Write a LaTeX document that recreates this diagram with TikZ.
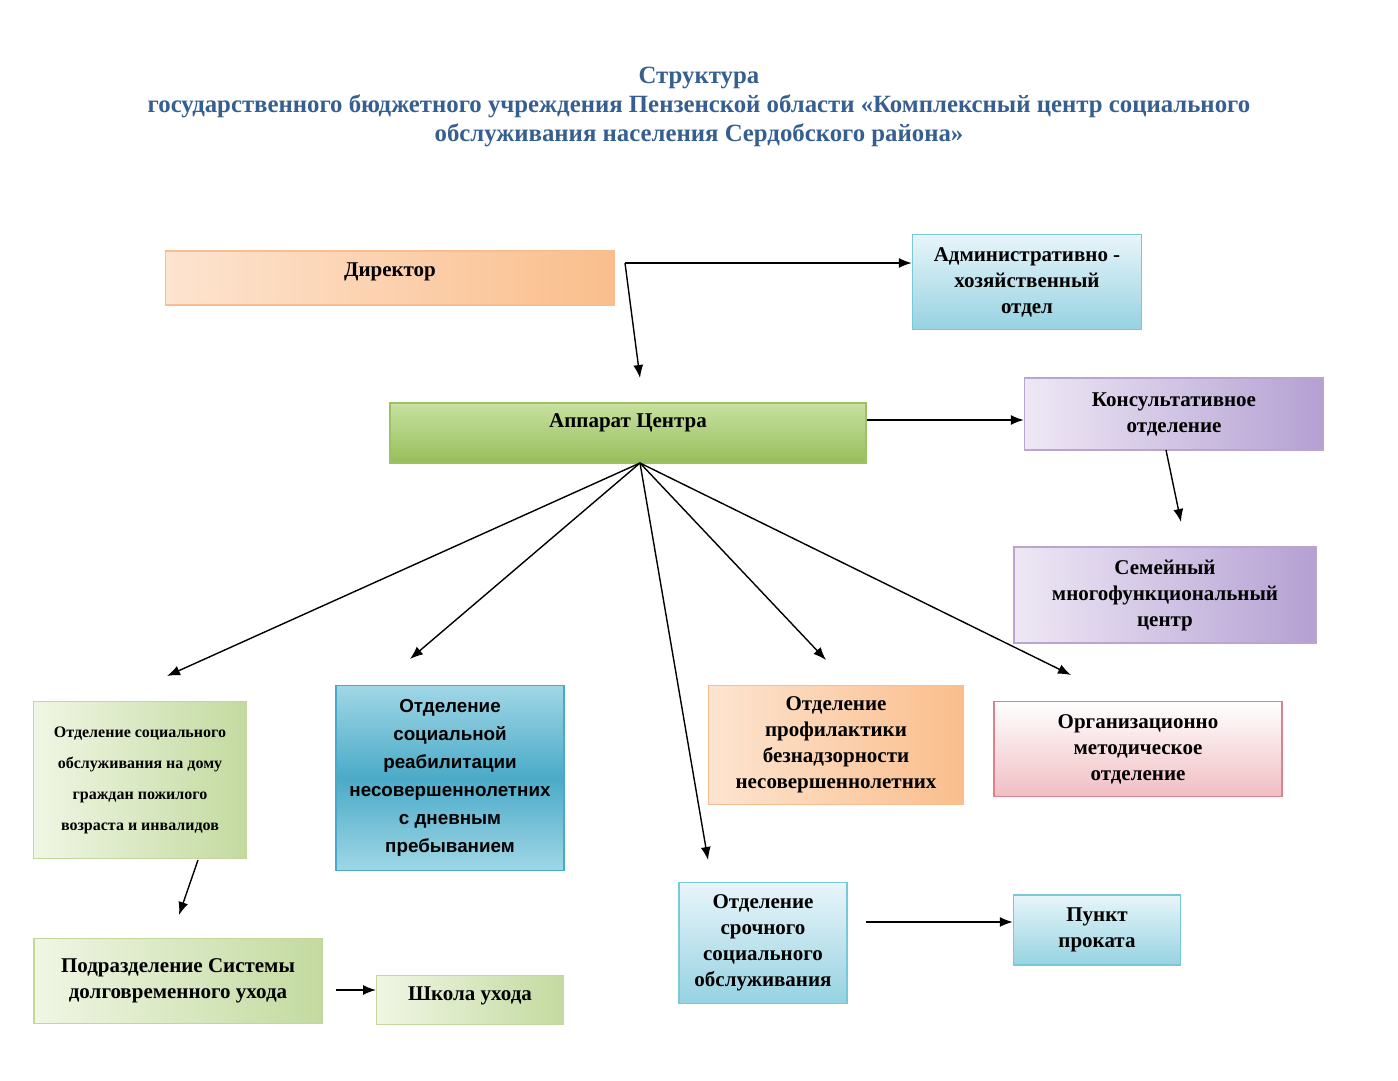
\documentclass[tikz,border=0pt]{standalone}
\usepackage{fontspec}
\setmainfont{Liberation Serif}
\newfontfamily\sansb{Liberation Sans}
\usetikzlibrary{arrows.meta}
\definecolor{ttl}{RGB}{54,95,145}
\definecolor{or1}{RGB}{253,228,208}\definecolor{or2}{RGB}{250,190,140}\definecolor{orb}{RGB}{248,190,145}
\definecolor{bl1}{RGB}{232,245,250}\definecolor{bl2}{RGB}{150,210,225}\definecolor{blb}{RGB}{120,200,215}
\definecolor{db1}{RGB}{160,215,230}\definecolor{db2}{RGB}{75,170,200}\definecolor{dbb}{RGB}{70,170,200}
\definecolor{gr1}{RGB}{200,225,160}\definecolor{gr2}{RGB}{150,190,90}\definecolor{grb}{RGB}{155,195,100}
\definecolor{lg1}{RGB}{240,246,228}\definecolor{lg2}{RGB}{195,218,160}\definecolor{lgb}{RGB}{195,215,155}
\definecolor{pu1}{RGB}{238,232,245}\definecolor{pu2}{RGB}{180,160,210}\definecolor{pub}{RGB}{185,165,210}
\definecolor{pk1}{RGB}{255,255,255}\definecolor{pk2}{RGB}{240,190,195}\definecolor{pkb}{RGB}{220,130,140}
\begin{document}
\begin{tikzpicture}[x=1pt,y=-1pt,
 box/.style={draw=#1,line width=1.4pt,inner sep=0pt,font=\bfseries\fontsize{21}{26}\selectfont,align=center},
 orng/.style={box=orb,left color=or1,right color=or2},
 blu/.style={box=blb,top color=bl1,bottom color=bl2},
 dblu/.style={box=dbb,top color=db1,bottom color=db1,middle color=db2},
 grn/.style={box=grb,top color=gr1,bottom color=gr2},
 lgrn/.style={box=lgb,left color=lg1,right color=lg2},
 purp/.style={box=pub,left color=pu1,right color=pu2},
 pnk/.style={box=pkb,top color=pk1,bottom color=pk2},
 arr/.style={-{Latex[length=13pt,width=10pt]},line width=1.4pt}]
\useasboundingbox (0,0) rectangle (1398,1080);
\node[font=\bfseries\fontsize{24.8}{29}\selectfont,text=ttl,align=center] (title) at (699,107) {Структура\\государственного бюджетного учреждения Пензенской области «Комплексный центр социального\\обслуживания населения Сердобского района»};
\node[orng,minimum width=449,minimum height=54] (dir) at (390,278) {};
\node[font=\bfseries\fontsize{21}{26}\selectfont] at (390,272) {Директор};
\node[blu,minimum width=229,minimum height=95] (adm) at (1027,282) {Административно -\\хозяйственный\\отдел};
\node[grn,minimum width=476,minimum height=60] (app) at (628,433) {};
\node[font=\bfseries\fontsize{21}{26}\selectfont] at (628,423) {Аппарат Центра};
\node[purp,minimum width=299,minimum height=72] (kon) at (1174,414) {Консультативное\\отделение};
\node[purp,minimum width=302,minimum height=96] (sem) at (1165,595) {Семейный\\многофункциональный\\центр};
\node[lgrn,minimum width=213,minimum height=157,font=\bfseries\fontsize{16}{31}\selectfont] (dom) at (140,780) {Отделение социального\\обслуживания на дому\\граждан пожилого\\возраста и инвалидов};
\node[dblu,minimum width=228,minimum height=185,font=\sansb\bfseries\fontsize{18.8}{28}\selectfont] (reab) at (450,778) {Отделение\\социальной\\реабилитации\\несовершеннолетних\\с дневным\\пребыванием};
\node[orng,minimum width=255,minimum height=119] (prof) at (836,745) {Отделение\\профилактики\\безнадзорности\\несовершеннолетних};
\node[pnk,minimum width=288,minimum height=95] (org) at (1138,749) {Организационно\\методическое\\отделение};
\node[blu,minimum width=168,minimum height=121] (sroch) at (763,943) {Отделение\\срочного\\социального\\обслуживания};
\node[blu,minimum width=167,minimum height=70] (punkt) at (1097,930) {Пункт\\проката};
\node[lgrn,minimum width=288,minimum height=85] (pod) at (178,981) {Подразделение Системы\\долговременного ухода};
\node[lgrn,minimum width=187,minimum height=49] (shk) at (470,1000) {};
\node[font=\bfseries\fontsize{21}{26}\selectfont] at (470,996) {Школа ухода};
\coordinate (d0) at (625,263);
\coordinate (a0) at (640,463);
\draw[arr] (d0) -- (adm.west|-d0);
\draw[arr] (d0) -- (640,378);
\draw[arr] (a0) -- (167,676);
\draw[arr] (a0) -- (410,659);
\draw[arr] (a0) -- (708,860);
\draw[arr] (a0) -- (826,660);
\draw[arr] (a0) -- (1071,675);
\draw[arr] (app.east|-0,420) -- (kon.west|-0,420);
\draw[arr] (1166,450) -- (1181,522);
\draw[arr] (198,860) -- (179,915);
\draw[arr] (336,990) -- (376,990);
\draw[arr] (866,922) -- (punkt.west|-0,922);
\end{tikzpicture}
\end{document}
